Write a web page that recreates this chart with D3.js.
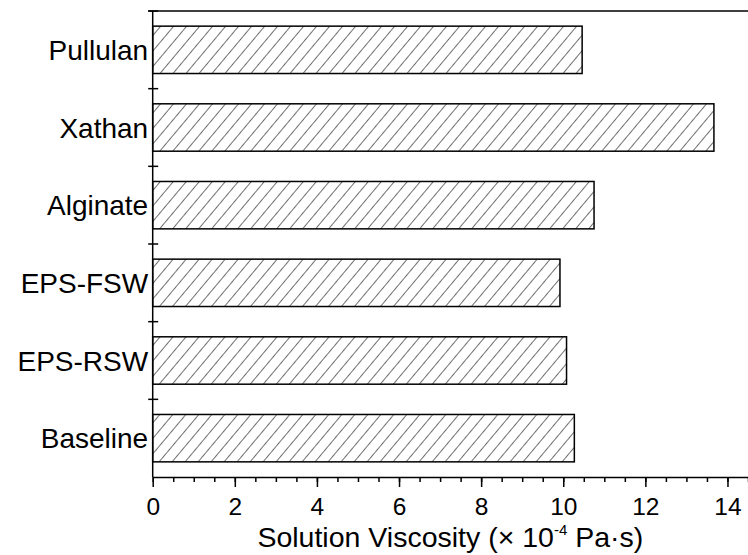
<!DOCTYPE html>
<html>
<head>
<meta charset="utf-8">
<script src="https://cdn.jsdelivr.net/npm/d3@7"></script>
<style>
  body { margin: 0; background: #fff; }
  svg { display: block; font-family: "Liberation Sans", Arial, sans-serif; }
</style>
</head>
<body>
<svg id="chart" width="748" height="555"></svg>
<script>
// bars listed top to bottom
const categories = ['Pullulan', 'Xathan', 'Alginate', 'EPS-FSW', 'EPS-RSW', 'Baseline'];
const viscosity = [10.46, 13.67, 10.75, 9.92, 10.08, 10.27];
const majorTicks = [0, 2, 4, 6, 8, 10, 12, 14];

const width = 748, height = 555;
const margin = { top: 11, right: 0, bottom: 78, left: 152.7 };

const svg = d3.select('#chart');

// diagonal hatch fill
const defs = svg.append('defs');
const angle = 50, spacing = 13 * Math.sin(angle * Math.PI / 180);
defs.append('pattern')
    .attr('id', 'hatch')
    .attr('patternUnits', 'userSpaceOnUse')
    .attr('width', spacing)
    .attr('height', spacing)
    .attr('patternTransform', `rotate(${90 - angle})`)
  .append('line')
    .attr('x1', 0).attr('y1', 0)
    .attr('x2', 0).attr('y2', spacing)
    .attr('stroke', '#222')
    .attr('stroke-width', 1.3);

const x = d3.scaleLinear()
    .domain([0, 14.5])
    .range([margin.left, width - margin.right]);

const y = d3.scaleBand()
    .domain(categories)
    .range([margin.top, height - margin.bottom])
    .paddingInner(0.39)
    .paddingOuter(0.195);

const step = y.step();
const bandTop = d => y(d) - y.paddingInner() * step / 2;

// bars
svg.append('g')
  .selectAll('rect')
  .data(categories)
  .join('rect')
    .attr('x', x(0))
    .attr('y', d => y(d))
    .attr('width', (d, i) => x(viscosity[i]) - x(0))
    .attr('height', y.bandwidth())
    .attr('fill', 'url(#hatch)')
    .attr('stroke', '#000')
    .attr('stroke-width', 1.5);

// x axis with minor ticks
const xAxisY = height - margin.bottom;
svg.append('g')
    .attr('transform', `translate(0,${xAxisY})`)
    .call(d3.axisBottom(x).tickValues(d3.range(0, 14.51, 0.5)).tickSize(5).tickFormat(''))
    .call(g => g.select('.domain').remove())
    .call(g => g.selectAll('line').attr('stroke-width', 1.5));

svg.append('g')
    .attr('transform', `translate(0,${xAxisY})`)
    .call(d3.axisBottom(x).tickValues(majorTicks).tickSize(10).tickPadding(11).tickSizeOuter(0))
    .call(g => g.select('.domain').attr('stroke-width', 1.5))
    .call(g => g.selectAll('line').attr('stroke-width', 1.5))
    .call(g => g.selectAll('text').attr('font-size', 24.5).attr('fill', '#000')
        .attr('font-family', '"Liberation Sans", Arial, sans-serif'));

// y axis: line with crossing ticks on category boundaries
const yAxis = svg.append('g');
yAxis.append('line')
    .attr('x1', x(0)).attr('x2', x(0))
    .attr('y1', margin.top).attr('y2', xAxisY)
    .attr('stroke', '#000').attr('stroke-width', 1.5);

yAxis.selectAll('.bound')
  .data(categories)
  .join('line')
    .attr('class', 'bound')
    .attr('x1', x(0) - 4.5).attr('x2', x(0) + 5.5)
    .attr('y1', d => bandTop(d)).attr('y2', d => bandTop(d))
    .attr('stroke', '#000').attr('stroke-width', 1.5);

// top frame line
svg.append('line')
    .attr('x1', x(0) - 4.5).attr('x2', width)
    .attr('y1', margin.top).attr('y2', margin.top)
    .attr('stroke', '#000').attr('stroke-width', 1.5);

yAxis.selectAll('.cat')
  .data(categories)
  .join('text')
    .attr('class', 'cat')
    .attr('x', x(0) - 4.5)
    .attr('y', d => y(d) + y.bandwidth() / 2)
    .attr('dy', '0.36em')
    .attr('text-anchor', 'end')
    .attr('font-size', 28)
    .text(d => d);

// axis title
const title = svg.append('text')
    .attr('x', (x.range()[0] + x.range()[1]) / 2)
    .attr('y', 546.5)
    .attr('text-anchor', 'middle')
    .attr('font-size', 28.5);
title.append('tspan').text('Solution Viscosity (× 10');
title.append('tspan').attr('font-size', 15).attr('dy', -12).text('-4');
title.append('tspan').attr('dy', 12).text(' Pa·s)');
</script>
</body>
</html>
